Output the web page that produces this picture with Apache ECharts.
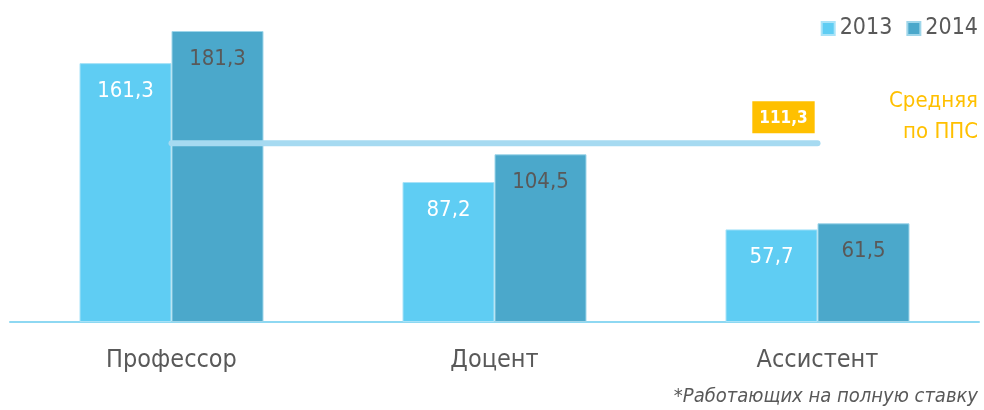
<!DOCTYPE html>
<html>
<head>
<meta charset="utf-8">
<script src="https://cdn.jsdelivr.net/npm/echarts@6/dist/echarts.min.js"></script>
<style>html,body{margin:0;padding:0;background:#fff}#c{width:984px;height:410px}</style>
</head>
<body>
<div id="c"></div>
<script>
const categories = ['Профессор', 'Доцент', 'Ассистент'];
const seriesNames = ['2013', '2014'];
const values2013 = [161.3, 87.2, 57.7];
const values2014 = [181.3, 104.5, 61.5];
const averageValue = 111.3;
const averageLabel = ['Средняя', 'по ППС'];
const footnote = '*Работающих на полную ставку';

const FONT = "'Liberation Sans Narrow', 'Arial Narrow', 'DejaVu Sans Condensed', sans-serif";
const fmt = v => String(v).replace('.', ',');
const chart = echarts.init(document.getElementById('c'));
chart.setOption({
  animation: false,
  grid: { left: 10, right: 5, top: 1, bottom: 88, containLabel: false },
  legend: {
    right: 1, top: 12, itemWidth: 13, itemHeight: 13, itemGap: 14,
    icon: 'rect',
    textStyle: { fontFamily: FONT, fontSize: 23, color: '#595959' },
    data: seriesNames
  },
  xAxis: {
    type: 'category', data: categories,
    axisLine: { lineStyle: { color: '#8ED8F2', width: 2 } },
    axisTick: { show: false },
    axisLabel: { fontFamily: FONT, fontSize: 25, color: '#595959', margin: 26 }
  },
  yAxis: { type: 'value', min: 0, max: 200, show: false, splitLine: { show: false } },
  series: [
    {
      name: seriesNames[0], type: 'bar', data: values2013, barWidth: 92, barGap: '0%',
      itemStyle: { color: '#5FCDF3', borderColor: '#A9E3F8', borderWidth: 1 },
      label: { show: true, position: 'insideTop', distance: 17, formatter: p => fmt(p.value),
               fontFamily: FONT, fontSize: 22, color: '#FFFFFF' }
    },
    {
      name: seriesNames[1], type: 'bar', data: values2014, barWidth: 92,
      itemStyle: { color: '#4BA8CB', borderColor: '#9FD6EA', borderWidth: 1 },
      label: { show: true, position: 'insideTop', distance: 17, formatter: p => fmt(p.value),
               fontFamily: FONT, fontSize: 22, color: '#595959' }
    },
    {
      name: 'Средняя', type: 'line', symbol: 'circle', symbolSize: 0, showSymbol: true,
      silent: true, z: 5,
      itemStyle: { color: '#A6DAF1' },
      lineStyle: { color: '#A6DAF1', width: 6, cap: 'round' },
      label: { show: false },
      data: [
        [0, averageValue],
        { value: [categories.length - 1, averageValue],
          label: {
            show: true, position: 'top', distance: 10, offset: [-34, 0],
            formatter: () => fmt(averageValue),
            fontFamily: FONT, fontSize: 17, fontWeight: 'bold', color: '#FFFFFF',
            backgroundColor: '#FFC000', padding: [7, 7, 5, 7], lineHeight: 20
          } }
      ]
    }
  ],
  graphic: [
    { type: 'text', x: 978, y: 86,
      style: { text: averageLabel.join('\n'), fontFamily: FONT, fontSize: 22, lineHeight: 31,
               fill: '#FFC000', align: 'right', verticalAlign: 'top' } },
    { type: 'text', x: 978, y: 387,
      style: { text: footnote, fontFamily: FONT, fontSize: 20, fontStyle: 'italic', fill: '#595959',
               align: 'right', verticalAlign: 'top' } }
  ]
});
</script>
</body>
</html>
